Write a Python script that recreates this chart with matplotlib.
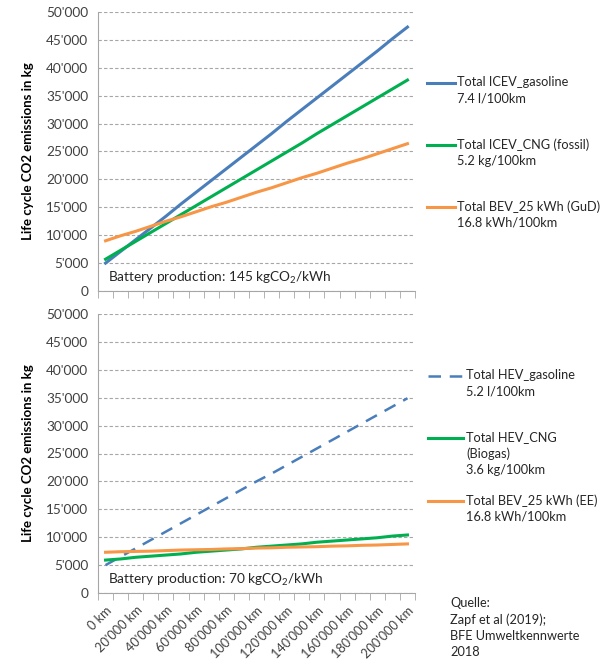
import numpy as np
import matplotlib
matplotlib.use("Agg")
import matplotlib.pyplot as plt
from matplotlib.lines import Line2D

plt.rcParams['font.family'] = ['Lato', 'DejaVu Sans']
plt.rcParams['mathtext.default'] = 'regular'

# distance in km, one point every 10'000 km
km = [0, 10000, 20000, 30000, 40000, 50000, 60000, 70000, 80000, 90000, 100000,
      110000, 120000, 130000, 140000, 150000, 160000, 170000, 180000, 190000, 200000]
xlabels = ["0 km", "20'000 km", "40'000 km", "60'000 km", "80'000 km", "100'000 km",
           "120'000 km", "140'000 km", "160'000 km", "180'000 km", "200'000 km"]

# top panel
icev_gasoline = [5000, 7100, 9200, 11300, 13400, 15600, 17700, 19800, 21900, 24000, 26100,
                 28200, 30400, 32500, 34600, 36700, 38800, 40900, 43000, 45200, 47300]
icev_cng = [5700, 7300, 8900, 10500, 12100, 13700, 15300, 16900, 18500, 20100, 21700,
            23300, 24900, 26500, 28200, 29800, 31400, 33000, 34600, 36200, 37800]
bev_gud = [9000, 9900, 10700, 11600, 12500, 13300, 14200, 15100, 15900, 16800, 17700,
           18500, 19400, 20300, 21100, 22000, 22900, 23700, 24600, 25500, 26400]

# bottom panel
hev_gasoline = [5000, 6500, 8000, 9500, 11000, 12500, 14000, 15500, 17000, 18500, 20000,
                21400, 22900, 24400, 25900, 27400, 28900, 30400, 31900, 33400, 34900]
hev_cng = [5900, 6100, 6400, 6600, 6800, 7000, 7300, 7500, 7700, 7900, 8200,
           8400, 8600, 8800, 9100, 9300, 9500, 9700, 9900, 10200, 10400]
bev_ee = [7300, 7400, 7450, 7500, 7600, 7700, 7750, 7800, 7900, 7950, 8050,
          8100, 8200, 8250, 8300, 8400, 8450, 8550, 8600, 8700, 8800]

BLUE = '#4a7ebb'
GREEN = '#00b050'
ORANGE = '#f79646'
GRAY = '#a6a6a6'
FS = 9.2

fig = plt.figure(figsize=(6.08, 6.70), dpi=100)
ax1 = fig.add_axes([98/608, 1-291/670, 317/608, 279/670])
ax2 = fig.add_axes([98/608, 1-593/670, 317/608, 279/670])

pos = np.arange(len(km))

def style(ax, show_labels):
    ax.set_xlim(-0.5, len(km) - 0.5)
    ax.set_ylim(0, 50000)
    ax.set_yticks(np.arange(0, 50001, 5000))
    ax.set_yticklabels([f"{v:,}".replace(",", "'") for v in range(0, 50001, 5000)], fontsize=FS + 0.6)
    ax.tick_params(axis='y', length=0, pad=7, colors='#404040')
    ax.yaxis.grid(True, linestyle=(0, (3, 2)), color=GRAY, linewidth=0.8)
    ax.set_axisbelow(True)
    for s in ['top', 'right']:
        ax.spines[s].set_visible(False)
    for s in ['left', 'bottom']:
        ax.spines[s].set_color(GRAY)
    ax.set_xticks(pos[::2])
    ax.set_xticks(np.arange(-0.5, len(km)), minor=True)
    ax.tick_params(axis='x', which='major', length=0, pad=8)
    ax.tick_params(axis='x', which='minor', length=5, color=GRAY)
    if show_labels:
        ax.set_xticklabels(xlabels, rotation=45, ha='right', rotation_mode='anchor',
                           fontsize=FS, color='#404040')
    else:
        ax.set_xticklabels([])
    ax.set_ylabel("Life cycle CO2 emissions in kg", fontweight='bold', fontsize=FS + 0.3, labelpad=9)

ax1.plot(pos, icev_gasoline, color=BLUE, lw=2.2)
ax1.plot(pos, icev_cng, color=GREEN, lw=2.2)
ax1.plot(pos, bev_gud, color=ORANGE, lw=2.2)
style(ax1, False)
ax1.text(0.03, 0.045, "Battery production: 145 kgCO$_2$/kWh", transform=ax1.transAxes,
         fontsize=FS + 0.6, color='#262626', va='center')

ax2.plot(pos, hev_gasoline, color=BLUE, lw=1.8, dashes=(5, 3.5))
ax2.plot(pos, hev_cng, color=GREEN, lw=2.2)
ax2.plot(pos, bev_ee, color=ORANGE, lw=2.2)
style(ax2, True)
ax2.text(0.03, 0.045, "Battery production: 70 kgCO$_2$/kWh", transform=ax2.transAxes,
         fontsize=FS + 0.6, color='#262626', va='center')


def legend_entry(x0, x1, tx, y, text, color, dashed=False):
    yf = 1 - y/670
    ln = Line2D([x0/608, x1/608], [yf, yf], color=color, lw=2.2 if not dashed else 1.8,
                transform=fig.transFigure)
    if dashed:
        ln.set_dashes((5, 3.5))
    fig.add_artist(ln)
    fig.text(tx/608, yf + 7/670, text, fontsize=FS, color='#262626', va='top',
             linespacing=1.42)

legend_entry(427, 455, 457, 83, "Total ICEV_gasoline\n7.4 l/100km", BLUE)
legend_entry(427, 455, 457, 145, "Total ICEV_CNG (fossil)\n5.2 kg/100km", GREEN)
legend_entry(427, 455, 457, 207, "Total BEV_25 kWh (GuD)\n16.8 kWh/100km", ORANGE)

legend_entry(428, 463, 466, 376, "Total HEV_gasoline\n5.2 l/100km", BLUE, dashed=True)
legend_entry(428, 463, 466, 438, "Total HEV_CNG\n(Biogas)\n3.6 kg/100km", GREEN)
legend_entry(428, 463, 466, 501, "Total BEV_25 kWh (EE)\n16.8 kWh/100km", ORANGE)

fig.text(450/608, 1 - 597/670, "Quelle:\nZapf et al (2019);\nBFE Umweltkennwerte\n2018",
         fontsize=FS, color='#262626', va='top', linespacing=1.42)

fig.savefig("out.png", dpi=100)
